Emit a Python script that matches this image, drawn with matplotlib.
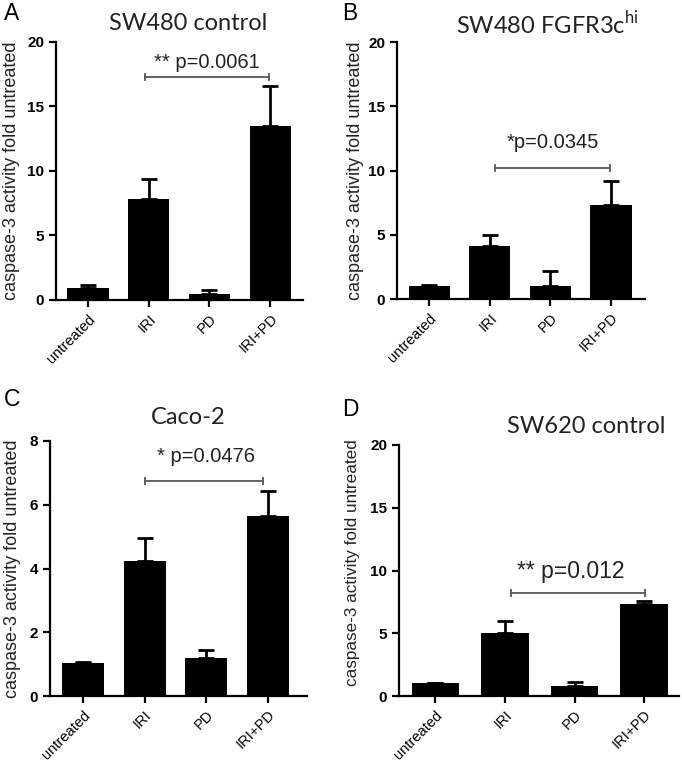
"""Caspase-3 activity bar panels (A-D)."""

import matplotlib

matplotlib.use("Agg")
import matplotlib.pyplot as plt
from matplotlib.transforms import ScaledTranslation

plt.rcParams["font.family"] = ["Liberation Sans", "DejaVu Sans"]

CATEGORIES = ["untreated", "IRI", "PD", "IRI+PD"]
Y_LABEL = "caspase-3 activity fold untreated"

PANEL_LETTERS = ["A", "B", "C", "D"]
PANEL_TITLES = ["SW480 control", "SW480 FGFR3c$^{\\mathregular{hi}}$", "Caco-2", "SW620 control"]

MEAN_A = [0.95, 7.85, 0.45, 13.5]
UPPER_A = [1.2, 9.4, 0.8, 16.6]
MEAN_B = [1.0, 4.15, 1.05, 7.3]
UPPER_B = [1.1, 5.0, 2.2, 9.2]
MEAN_C = [1.05, 4.22, 1.18, 5.65]
UPPER_C = [1.07, 4.97, 1.45, 6.42]
MEAN_D = [1.0, 5.05, 0.8, 7.35]
UPPER_D = [1.05, 5.95, 1.15, 7.55]

Y_MAX = [20, 20, 8, 20]
Y_STEP = [5, 5, 2, 5]

P_TEXT = ["** p=0.0061", "*p=0.0345", "* p=0.0476", "** p=0.012"]
BRACKET_Y = [17.3, 10.2, 6.75, 8.2]
BRACKET_X = [(0.94, 2.98), (1.09, 2.98), (1.0, 2.92), (1.09, 3.01)]
P_TEXT_Y = [18.4, 12.2, 7.5, 9.9]
P_TEXT_X = [1.96, 2.04, 2.0, 1.95]

W, H = 682, 767
# axes boxes in pixels: left, right, top, bottom
AX_PX = [(56, 303, 42, 300), (397, 645, 42, 299), (50, 307, 441, 696), (399, 679, 445, 696)]
X_LIMS = [(-0.527, 3.54), (-0.53, 3.56), (-0.53, 3.63), (-0.52, 3.5)]
LABEL_POS = [(-0.146, 0.5), (-0.133, 0.5), (-0.113, 0.5), (-0.139, 0.53)]
LABEL_SIZE = [13, 13, 13, 12.3]
P_SIZE = [14.5, 14.5, 14.5, 16.5]
LETTER_PX = [(4, 14), (342, 14), (4, 399), (342, 410)]
TITLE_PX = [(188, 24), (547, 24), (188, 417), (586, 426)]

fig = plt.figure(figsize=(W / 100, H / 100), dpi=100)

means = [MEAN_A, MEAN_B, MEAN_C, MEAN_D]
uppers = [UPPER_A, UPPER_B, UPPER_C, UPPER_D]

for i in range(4):
    l, r, t, b = AX_PX[i]
    ax = fig.add_axes([l / W, 1 - b / H, (r - l) / W, (b - t) / H])
    x = list(range(len(CATEGORIES)))
    ax.bar(x, means[i], width=0.68, color="black", zorder=2)
    err = [u - m for u, m in zip(uppers[i], means[i])]
    ax.errorbar(x, means[i], yerr=[[0] * 4, err], fmt="none", ecolor="black",
                elinewidth=2, capsize=5.5, capthick=2, zorder=1)

    ax.set_xlim(*X_LIMS[i])
    ax.set_ylim(0, Y_MAX[i])
    ax.set_yticks(range(0, Y_MAX[i] + 1, Y_STEP[i]))
    ax.set_xticks(x)
    ax.set_xticklabels(CATEGORIES, rotation=45, ha="right", rotation_mode="anchor",
                       fontsize=10.5)
    # nudge rotated labels down-left so their ends sit under the ticks
    shift = ScaledTranslation(-16 / 100, -11 / 100, fig.dpi_scale_trans)
    for lab in ax.get_xticklabels():
        lab.set_transform(lab.get_transform() + shift)
    for lab in ax.get_yticklabels():
        lab.set_fontweight("bold")
        lab.set_fontsize(11)
    for side in ("top", "right"):
        ax.spines[side].set_visible(False)
    for side in ("left", "bottom"):
        ax.spines[side].set_linewidth(1.6)
    ax.tick_params(axis="both", width=1.6, length=5, direction="out")
    ax.set_ylabel(Y_LABEL, fontsize=LABEL_SIZE[i], color="#222222")
    ax.yaxis.set_label_coords(*LABEL_POS[i])

    # significance bracket
    x1, x2 = BRACKET_X[i]
    yb = BRACKET_Y[i]
    d = Y_MAX[i] * 0.012
    ax.plot([x1, x2], [yb, yb], color="#555555", lw=1.3, clip_on=False)
    ax.plot([x1, x1], [yb - d, yb + d], color="#555555", lw=1.3, clip_on=False)
    ax.plot([x2, x2], [yb - d, yb + d], color="#555555", lw=1.3, clip_on=False)
    ax.text(P_TEXT_X[i], P_TEXT_Y[i], P_TEXT[i], ha="center", va="center",
            fontsize=P_SIZE[i], color="#222222")

    lx, ly = LETTER_PX[i]
    fig.text(lx / W, 1 - ly / H, PANEL_LETTERS[i], fontsize=16.5, ha="left", va="center")
    tx, ty = TITLE_PX[i]
    fig.text(tx / W, 1 - ty / H, PANEL_TITLES[i], fontsize=17, ha="center", va="center",
             family=["Lato", "DejaVu Sans"], color="#222222")

fig.savefig("out.png", dpi=100)
